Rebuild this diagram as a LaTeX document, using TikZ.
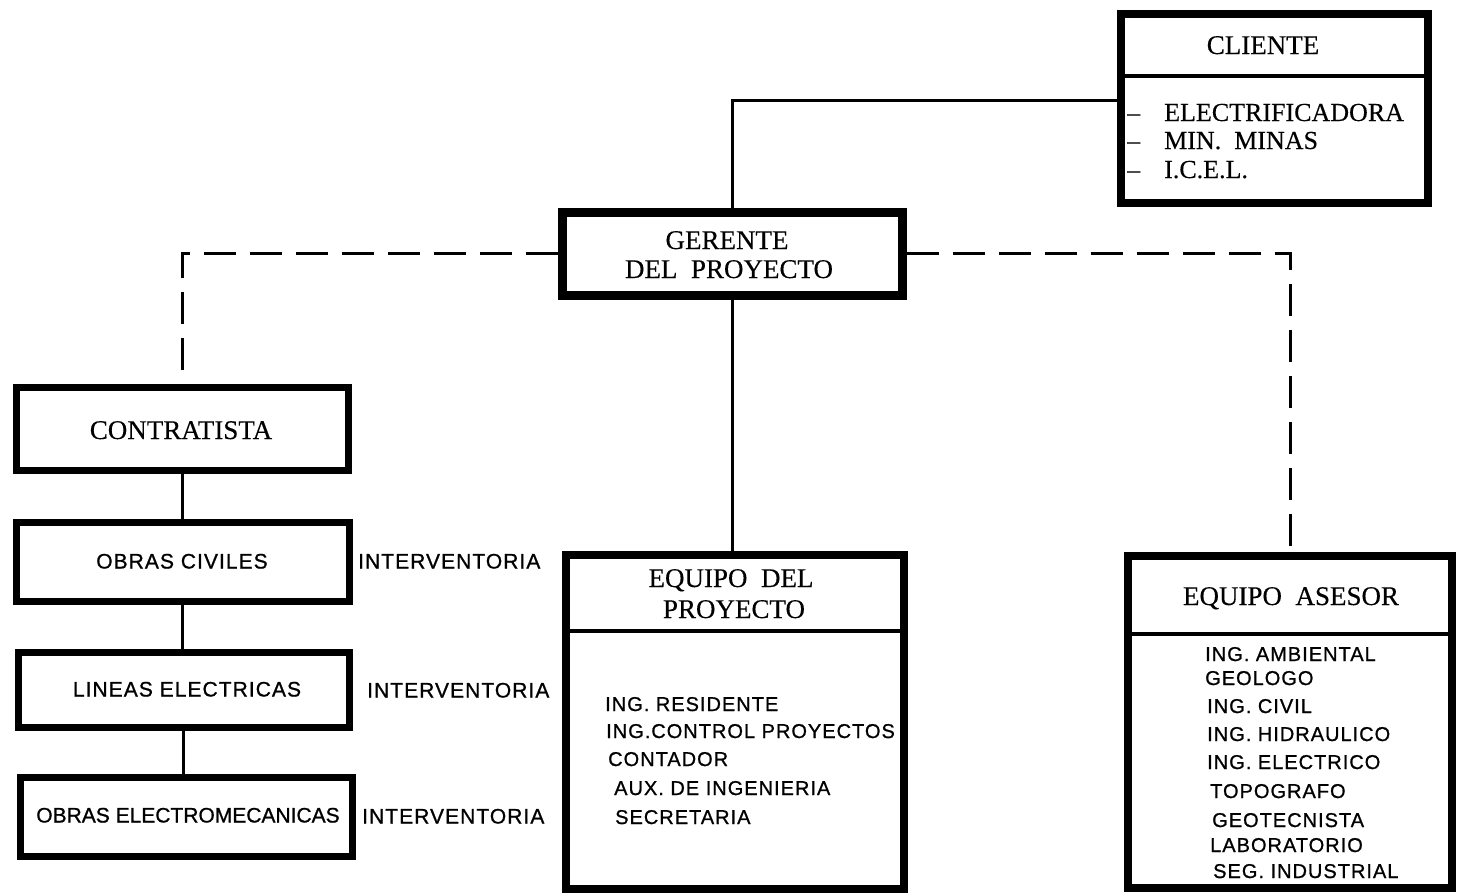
\documentclass[tikz,border=0pt]{standalone}
\usepackage{fontspec}
\setmainfont{Liberation Serif}[FakeBold=0.3]
\newfontfamily\sansf{Liberation Sans}[FakeBold=0.9]
\newfontfamily\sansw{Liberation Sans}[LetterSpace=5,FakeBold=0.9]
\begin{document}
\begin{tikzpicture}[x=1pt,y=-1pt,
  box/.style={draw,line width=8pt,inner sep=0pt,rectangle},
  sbox/.style={draw,line width=7pt,inner sep=0pt,rectangle},
  divider/.style={line width=4pt},
  serift/.style={font=\fontsize{27}{29}\selectfont,inner sep=0pt,anchor=base},
  serifi/.style={font=\fontsize{26}{28}\selectfont,inner sep=0pt,anchor=base west},
  sanst/.style={font=\sansw\fontsize{21}{24}\selectfont,inner sep=0pt,anchor=base},
  sansi/.style={font=\sansw\fontsize{20}{24}\selectfont,inner sep=0pt,anchor=base west},
  link/.style={line width=3pt},
  dlink/.style={line width=3pt,dash pattern=on 32pt off 14pt}]
\useasboundingbox (0,0) rectangle (1457,894);

% boxes
\node[box,minimum width=307pt,minimum height=189pt] (cli) at (1274.5,108.5) {};
\node[box,line width=9pt,minimum width=340pt,minimum height=83pt] (ger) at (732,253.5) {};
\node[sbox,minimum width=332pt,minimum height=83pt] (con) at (182,428.5) {};
\node[sbox,minimum width=333pt,minimum height=79pt] (oc) at (182.5,561.5) {};
\node[sbox,minimum width=331pt,minimum height=75pt] (le) at (183.5,689.5) {};
\node[sbox,minimum width=332pt,minimum height=79pt] (oe) at (186,816.5) {};
\node[box,minimum width=338pt,minimum height=334pt] (eqp) at (735,722) {};
\node[box,minimum width=324pt,minimum height=332pt] (ase) at (1290,722) {};

% dividers
\coordinate (clid) at (0,76);
\coordinate (eqpd) at (0,631);
\coordinate (ased) at (0,634);
\draw[divider] (cli.west |- clid) -- (cli.east |- clid);
\draw[divider] (eqp.west |- eqpd) -- (eqp.east |- eqpd);
\draw[divider] (ase.west |- ased) -- (ase.east |- ased);

% texts
\node[serift] (clit) at (1263,54) {CLIENTE};
\node[serifi] (cli1) at (1127,121) {–\hspace{24pt}ELECTRIFICADORA};
\node[serifi] (cli2) at (1127,149) {–\hspace{24pt}MIN.\ \ MINAS};
\node[serifi] (cli3) at (1127,178) {–\hspace{24pt}I.C.E.L.};

\node[serift] (ger1) at (727,249) {GERENTE};
\node[serift] (ger2) at (729,278) {DEL\ \ PROYECTO};

\node[serift] (cont) at (181,439) {CONTRATISTA};
\node[sanst] (oct) at (182,568.5) {OBRAS\ CIVILES};
\node[sanst] (let) at (187,696.5) {LINEAS ELECTRICAS};
\node[sanst,font=\sansf\fontsize{21}{24}\selectfont] (oet) at (188,822.5) {OBRAS ELECTROMECANICAS};

\node[sanst,anchor=base west] (int1) at (358,568.5) {INTERVENTORIA};
\node[sanst,anchor=base west] (int2) at (367,697.5) {INTERVENTORIA};
\node[sanst,anchor=base west] (int3) at (362,823.5) {INTERVENTORIA};

\node[serift] (eqt1) at (731,587) {EQUIPO\ \ DEL};
\node[serift] (eqt2) at (734,618) {PROYECTO};
\node[sansi] (eq1) at (605,711) {ING. RESIDENTE};
\node[sansi] (eq2) at (606,738) {ING.CONTROL PROYECTOS};
\node[sansi] (eq3) at (608,766) {CONTADOR};
\node[sansi] (eq4) at (614,795) {AUX. DE INGENIERIA};
\node[sansi] (eq5) at (615,824) {SECRETARIA};

\node[serift] (aset) at (1291,605) {EQUIPO\ \ ASESOR};
\node[sansi] (as1) at (1205,661) {ING. AMBIENTAL};
\node[sansi] (as2) at (1205,685) {GEOLOGO};
\node[sansi] (as3) at (1207,713) {ING.\ CIVIL};
\node[sansi] (as4) at (1207,741) {ING.\ HIDRAULICO};
\node[sansi] (as5) at (1207,769) {ING.\ ELECTRICO};
\node[sansi] (as6) at (1210,798) {TOPOGRAFO};
\node[sansi] (as7) at (1212,827) {GEOTECNISTA};
\node[sansi] (as8) at (1210,852) {LABORATORIO};
\node[sansi] (as9) at (1213,878) {SEG. INDUSTRIAL};

% connectors
\draw[link] (ger.north) |- ([yshift=8pt]cli.west);
\draw[link] (ger.south) -- (ger.south |- eqp.north);
\draw[link] (con.south) -- (con.south |- oc.north);
\draw[link] (oc.south) -- (oc.south |- le.north);
\draw[link] (le.south) -- (le.south |- oe.north);
\draw[dlink] (ger.west) -| (con.north);
\draw[dlink] (ger.east) -| (ase.north);
\end{tikzpicture}
\end{document}
